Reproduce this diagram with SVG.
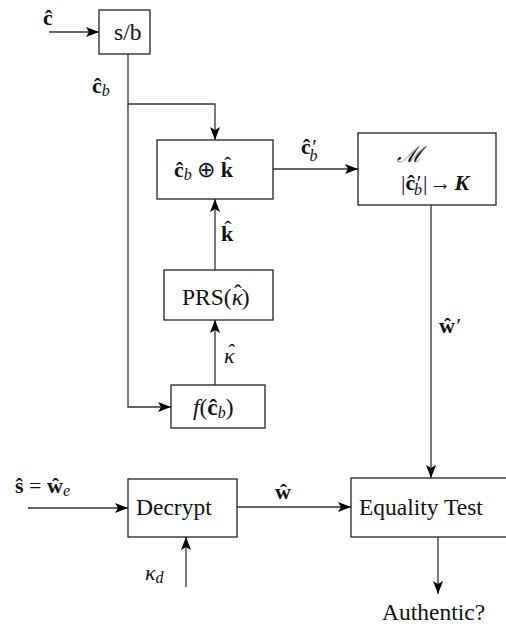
<svg xmlns="http://www.w3.org/2000/svg" width="506" height="626" viewBox="0 0 506 626" font-family="'Liberation Serif', 'Times New Roman', serif">
  <style>
    .box { fill: #fff; stroke: #222; stroke-width: 1.3; }
    .wire { fill: none; stroke: #333; stroke-width: 1.3; }
    .arr { marker-end: url(#head); }
    text { font-family: 'Liberation Serif', 'Times New Roman', serif; fill: #111; }
    .lbl { font-size: 23.5px; }
    .m { font-size: 22px; }
    .v { font-weight: bold; }
    .i { font-style: italic; }
    .sub { font-size: 16px; font-style: italic; }
  </style>
  <defs>
    <marker id="head" markerUnits="userSpaceOnUse" markerWidth="14" markerHeight="10" refX="13" refY="5" orient="auto">
      <path d="M0,0 L13,5 L0,10 L3,5 Z" fill="#000"/>
    </marker>
  </defs>

  <!-- connectors -->
  <g id="connectors">
    <line class="wire arr" x1="49" y1="32" x2="99" y2="32"/>
    <polyline class="wire arr" points="128,54 128,104 215,104 215,140"/>
    <polyline class="wire arr" points="128,104 128,407 171,407"/>
    <line class="wire arr" x1="215" y1="385" x2="215" y2="320"/>
    <line class="wire arr" x1="215" y1="270" x2="215" y2="199"/>
    <line class="wire arr" x1="273" y1="169" x2="358" y2="169"/>
    <line class="wire arr" x1="431" y1="205" x2="431" y2="478"/>
    <line class="wire arr" x1="28" y1="508" x2="128" y2="508"/>
    <line class="wire arr" x1="186" y1="587" x2="186" y2="537"/>
    <line class="wire arr" x1="237" y1="507" x2="351" y2="507"/>
    <line class="wire arr" x1="438" y1="537" x2="438" y2="594"/>
  </g>

  <!-- connector labels -->
  <g id="labels">
    <text class="m v" x="43" y="25">ĉ</text>
    <text class="m" x="92" y="93"><tspan class="v">ĉ</tspan><tspan class="sub" dy="3">b</tspan></text>
    <text class="m" x="301" y="154"><tspan class="v">ĉ</tspan><tspan class="i">′</tspan><tspan class="sub" dx="-6" dy="7">b</tspan></text>
    <text class="m v" x="221" y="241">k<tspan dx="-9" dy="-5" style="font-weight:normal">ˆ</tspan></text>
    <text class="m i" x="224" y="363">κ<tspan dx="-8" dy="-4">ˆ</tspan></text>
    <text class="m v" x="439" y="333">ŵ<tspan style="font-weight:normal" class="i">′</tspan></text>
    <text class="m" x="15" y="493"><tspan class="v">ŝ</tspan> = <tspan class="v">ŵ</tspan><tspan class="sub" dy="3">e</tspan></text>
    <text class="m v" x="275" y="499">ŵ</text>
    <text class="m" x="145" y="580"><tspan class="i">κ</tspan><tspan class="sub" dy="3">d</tspan></text>
    <text class="lbl" x="382" y="620">Authentic?</text>
  </g>

  <g id="node-sb">
    <rect class="box" x="99" y="10" width="51" height="44"/>
    <text class="lbl" x="114" y="40">s/b</text>
  </g>

  <g id="node-xor">
    <rect class="box" x="157" y="140" width="116" height="59"/>
    <text class="m" x="174" y="177"><tspan class="v">ĉ</tspan><tspan class="sub" dy="3">b</tspan><tspan dy="-3"> ⊕ </tspan><tspan class="v">k</tspan><tspan dx="-9" dy="-5">ˆ</tspan></text>
  </g>

  <g id="node-m">
    <rect class="box" x="358" y="133" width="138" height="72"/>
    <text class="m i" x="409" y="162" text-anchor="middle">ℳ</text>
    <text class="m" x="401" y="190">|<tspan class="v">ĉ</tspan><tspan class="i">′</tspan><tspan class="sub" dx="-6" dy="5">b</tspan><tspan dx="1" dy="-5">|</tspan><tspan dx="2">→</tspan><tspan dx="3" class="i v">K</tspan></text>
  </g>

  <g id="node-prs">
    <rect class="box" x="164" y="270" width="109" height="50"/>
    <text class="lbl" x="182" y="305">PRS(<tspan class="i">κ</tspan><tspan dx="-9" dy="-4">ˆ</tspan><tspan dy="4">)</tspan></text>
  </g>

  <g id="node-f">
    <rect class="box" x="171" y="385" width="94" height="43"/>
    <text class="lbl" x="193" y="415"><tspan class="i">f</tspan>(<tspan class="v">ĉ</tspan><tspan class="sub" dy="3">b</tspan><tspan dy="-3">)</tspan></text>
  </g>

  <g id="node-decrypt">
    <rect class="box" x="128" y="479" width="109" height="58"/>
    <text class="lbl" x="136" y="515">Decrypt</text>
  </g>

  <g id="node-equality">
    <rect class="box" x="351" y="478" width="170" height="59"/>
    <text class="lbl" x="359" y="515">Equality Test</text>
  </g>
</svg>
